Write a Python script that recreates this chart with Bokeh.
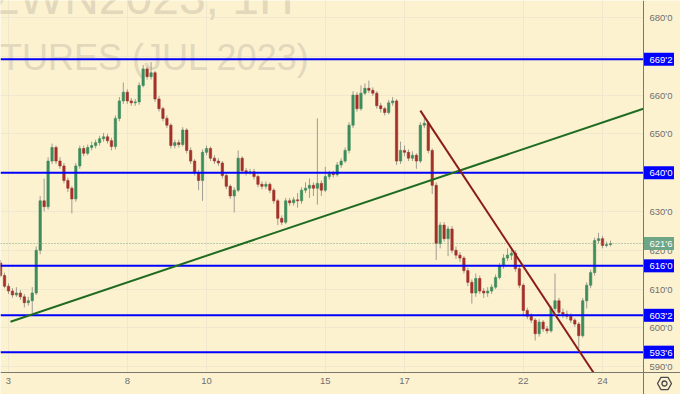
import numpy as np
from bokeh.plotting import figure
from bokeh.models import Range1d, FixedTicker, Label
from bokeh.core.properties import value
from bokeh.embed import file_html
from bokeh.resources import INLINE

# ---------------- data (hourly bars, May 2023, 10 bars per trading day) ----------------
BARS_PER_DAY = 10
day_labels = ["3", "8", "10", "15", "17", "22", "24"]
day_index = [0, 3, 5, 8, 10, 13, 15]

first_open = 616.75
closes = [
    613.5, 610.75, 609.5, 608.5, 609.0, 608.0, 606.5, 607.0, 609.0, 620.0,
    632.75, 631.25, 643.0, 646.5, 643.0, 641.75, 638.0, 636.0, 633.25, 641.75,
    646.25, 645.0, 646.5, 647.0, 647.75, 648.75, 649.25, 648.25, 646.75, 654.0,
    658.5, 660.75, 658.5, 658.0, 658.25, 662.5, 666.75, 664.75, 665.75, 659.0,
    656.5, 654.0, 652.25, 647.0, 647.75, 647.25, 651.0, 645.75, 643.0, 640.0,
    638.0, 645.25, 646.25, 643.75, 643.0, 642.5, 639.25, 636.5, 634.0, 635.5,
    643.75, 640.5, 640.0, 640.25, 639.0, 637.0, 636.5, 637.0, 635.5, 632.75,
    628.25, 627.25, 632.75, 632.25, 633.0, 632.75, 635.5, 636.0, 636.75, 636.0,
    637.25, 635.5, 639.0, 639.75, 639.5, 642.0, 643.0, 645.75, 652.25, 660.0,
    656.5, 660.5, 661.75, 661.25, 660.5, 657.25, 656.5, 655.5, 658.0, 658.5,
    643.0, 645.75, 645.25, 643.75, 644.5, 643.0, 652.25, 652.75, 645.75, 636.75,
    621.75, 626.5, 623.0, 625.5, 620.0, 618.75, 618.0, 614.75, 611.75, 609.0,
    612.75, 609.5, 609.0, 609.5, 610.5, 613.0, 616.0, 618.0, 618.75, 619.25,
    615.25, 611.0, 604.5, 603.0, 602.0, 598.5, 601.5, 599.75, 599.25, 605.0,
    607.0, 604.0, 603.5, 603.0, 602.0, 601.0, 598.0, 607.0, 611.0, 614.25,
    622.5, 623.0, 621.25, 621.5, 621.75,
]
highs = [
    617.5, 614.25, 611.5, 610.25, 610.5, 609.75, 608.75, 608.0, 610.5, 621.0,
    634.0, 638.5, 644.0, 647.5, 647.0, 644.0, 642.5, 638.75, 636.5, 642.5,
    647.0, 647.0, 647.25, 648.0, 648.5, 649.5, 650.25, 650.0, 649.0, 654.75,
    659.5, 663.25, 661.5, 659.25, 659.0, 663.25, 667.75, 667.25, 668.5, 666.25,
    659.75, 657.0, 654.75, 652.75, 648.5, 648.5, 651.75, 651.5, 646.5, 643.5,
    640.75, 646.0, 647.0, 646.75, 644.5, 643.75, 643.0, 640.0, 637.0, 636.25,
    645.75, 644.25, 641.25, 641.0, 641.0, 639.5, 637.75, 637.75, 637.5, 636.0,
    633.25, 629.0, 633.5, 633.5, 633.75, 634.75, 636.25, 637.5, 638.5, 637.5,
    654.0, 638.0, 641.5, 640.5, 640.5, 642.75, 643.75, 646.5, 653.0, 661.0,
    660.75, 662.5, 663.0, 663.75, 662.0, 661.0, 658.0, 657.0, 658.75, 659.5,
    659.0, 648.0, 647.0, 646.0, 645.5, 645.0, 653.0, 654.75, 653.25, 646.25,
    637.5, 627.25, 627.25, 626.25, 626.25, 621.0, 619.5, 618.5, 615.5, 612.5,
    614.0, 613.5, 610.25, 610.5, 611.25, 613.75, 616.75, 619.0, 620.5, 620.75,
    620.0, 616.0, 611.5, 605.25, 603.75, 602.5, 602.25, 602.0, 600.5, 605.75,
    614.0, 607.75, 605.0, 604.5, 603.75, 602.5, 601.5, 607.75, 611.75, 615.0,
    623.25, 624.5, 623.75, 622.25, 622.5,
]
lows = [
    613.0, 610.25, 608.75, 607.75, 608.0, 607.25, 605.25, 605.75, 603.75, 608.5,
    619.0, 630.0, 630.5, 642.25, 642.25, 641.0, 637.25, 635.0, 629.5, 632.5,
    641.0, 644.25, 644.5, 645.75, 646.25, 647.0, 648.0, 647.5, 645.75, 646.0,
    653.25, 657.75, 657.75, 657.25, 657.25, 657.5, 662.0, 664.0, 664.0, 658.25,
    655.75, 653.25, 651.5, 646.25, 646.25, 646.5, 646.75, 645.0, 642.25, 639.25,
    635.5, 632.75, 644.5, 643.0, 642.25, 641.75, 638.5, 635.75, 633.25, 629.75,
    635.0, 639.75, 639.25, 639.5, 638.25, 636.25, 635.75, 635.75, 634.75, 632.0,
    626.5, 626.5, 626.75, 631.5, 631.5, 631.0, 632.0, 634.75, 633.5, 634.0,
    631.75, 634.0, 635.0, 638.25, 638.75, 639.0, 641.25, 642.5, 645.0, 651.5,
    655.75, 656.0, 660.0, 660.5, 659.75, 656.5, 655.5, 654.75, 655.0, 657.25,
    642.0, 642.25, 644.25, 643.0, 643.0, 641.0, 642.5, 651.5, 645.0, 634.5,
    617.5, 620.5, 622.25, 618.5, 619.25, 617.75, 617.0, 614.0, 610.75, 606.25,
    608.0, 608.75, 607.75, 608.0, 608.75, 610.0, 612.5, 615.25, 617.25, 617.5,
    614.5, 610.25, 603.0, 602.25, 601.25, 596.75, 597.75, 599.0, 598.5, 598.75,
    604.25, 603.25, 602.5, 602.25, 601.25, 600.25, 594.75, 597.5, 605.0, 610.25,
    613.5, 621.75, 620.5, 620.75, 621.0,
]

levels = [669.25, 640.0, 616.0, 603.25, 593.75]       # blue horizontal levels
last_price = 621.75
green_t, green_p = [0.05, 16.5], [601.6, 658.1]       # rising trend line (day, price)
red_t, red_p = [10.40, 14.90], [656.0, 586.5]         # falling trend line (day, price)
price_ticks = [590, 600, 610, 620, 630, 650, 660, 680]
grid_prices = [590, 600, 610, 620, 630, 640, 650, 660, 670, 680]
title_line1 = "ZWN2023, 1H"
title_line2 = "WHEAT FUTURES (JUL 2023)"


def fmt(v):
    whole = int(np.floor(v))
    eighths = int(round((v - whole) * 8))
    return f"{whole}'{eighths}"


# ---------------- styling / layout ----------------
BG = "#fdf2d0"
GRID = "#f0e7cf"
AXIS = "#7a776c"
TXT = "#6f6f6f"
UP = "#3d8c5c"
DOWN = "#a3312a"
WICK = "#9f9c92"
BLUE = "#0000ff"
LAST = "#6ea585"
WATER = "#e2d8bc"
FONT = "Liberation Sans"

W, H = 680, 394
PANE_W, PANE_H = 643, 372            # chart pane; price scale right of it, time scale below
X_LEFT, X_RIGHT = -0.202, 16.035     # days shown across the pane
Y_TOP, Y_BOT = 684.38, 588.51        # prices shown down the pane
DX = (X_RIGHT - X_LEFT) / PANE_W     # days per pixel
DY = (Y_TOP - Y_BOT) / PANE_H        # price per pixel
X_FULL = X_LEFT + W * DX
Y_FULL = Y_TOP - H * DY

n = len(closes)
t = -0.2 + np.arange(n) / BARS_PER_DAY
c = np.array(closes)
o = np.array([first_open] + closes[:-1])
h = np.array(highs)
lo = np.array(lows)
up = c >= o

p = figure(width=W, height=H, output_backend="svg", toolbar_location=None,
           x_range=Range1d(X_LEFT, X_FULL), y_range=Range1d(Y_FULL, Y_TOP),
           x_axis_location=None, y_axis_location=None,
           min_border_left=0, min_border_top=0, min_border_right=0, min_border_bottom=0,
           background_fill_color=BG, border_fill_color=BG, outline_line_color=None)

# grid
p.xgrid.ticker = FixedTicker(ticks=day_index)
p.ygrid.ticker = FixedTicker(ticks=grid_prices)
p.xgrid.grid_line_color = GRID
p.ygrid.grid_line_color = GRID

# watermark
p.add_layout(Label(x=7.2, y=Y_TOP - 11 * DY, y_offset=14, text=title_line1, text_align="right",
                   text_baseline="alphabetic", text_font=FONT, text_font_size="48px",
                   text_color=WATER, level="underlay"))
p.add_layout(Label(x=7.63, y=Y_TOP - 68 * DY, y_offset=11, text=title_line2, text_align="right",
                   text_baseline="alphabetic", text_font=FONT, text_font_size="36px",
                   text_color=WATER, level="underlay"))

# candles
p.segment(x0=t, y0=lo, x1=t, y1=h, line_color=WICK, line_width=1)
p.vbar(x=t[up], top=c[up], bottom=o[up], width=0.06, fill_color=UP, line_color=UP, line_width=0.6)
p.vbar(x=t[~up], top=o[~up], bottom=c[~up], width=0.06, fill_color=DOWN, line_color=DOWN, line_width=0.6)

# last price line and horizontal levels
p.segment(x0=[X_LEFT], x1=[X_RIGHT], y0=[last_price], y1=[last_price],
          line_color=LAST, line_width=1, line_dash="1 2")
p.segment(x0=[X_LEFT] * len(levels), x1=[X_RIGHT] * len(levels), y0=levels, y1=levels,
          line_color=BLUE, line_width=2)

# trend lines
p.line(green_t, green_p, line_color="#1f6b22", line_width=2)
p.line(red_t, red_p, line_color="#8b1c1c", line_width=2)

# scale areas (mask grid / lines outside the pane)
p.quad(left=[X_RIGHT], right=[X_FULL], bottom=[Y_FULL], top=[Y_TOP],
       fill_color=BG, line_color=None)
p.quad(left=[X_LEFT], right=[X_FULL], bottom=[Y_FULL], top=[Y_BOT],
       fill_color=BG, line_color=None)
p.segment(x0=[X_RIGHT, X_LEFT], x1=[X_RIGHT, X_FULL], y0=[Y_FULL, Y_BOT], y1=[Y_TOP, Y_BOT],
          line_color=AXIS, line_width=1)

# price scale labels
p.text(x=[X_RIGHT] * len(price_ticks), y=price_ticks, text=[fmt(v) for v in price_ticks],
       x_offset=6, text_font=value(FONT), text_font_size=value("9.5px"), text_color=TXT,
       text_baseline="middle", text_align="left")

# price tags
tag_prices = levels + [last_price]
tag_colors = [BLUE] * len(levels) + [LAST]
p.rect(x=[X_RIGHT + 15.5 * DX] * len(tag_prices), y=tag_prices, width=30, width_units="screen",
       height=13, height_units="screen", fill_color=tag_colors, line_color=None)
p.text(x=[X_RIGHT] * len(tag_prices), y=tag_prices, text=[fmt(v) for v in tag_prices],
       x_offset=6, text_font=value(FONT), text_font_size=value("9.5px"), text_color="white",
       text_baseline="middle", text_align="left")

# time scale labels
p.text(x=day_index, y=[Y_BOT] * len(day_index), text=day_labels, y_offset=5,
       text_font=value(FONT), text_font_size=value("9.5px"), text_color=TXT,
       text_baseline="top", text_align="center")

# settings icon
icon_x, icon_y = [X_RIGHT + 21 * DX], [Y_BOT - 11 * DY]
p.scatter(x=icon_x, y=icon_y, marker="hex", size=14, fill_color=None,
          line_color="#4a4a4a", line_width=1.3)
p.scatter(x=icon_x, y=icon_y, marker="circle", size=5, fill_color=None,
          line_color="#4a4a4a", line_width=1.3)

open("out.html", "w").write(file_html(p, INLINE))
